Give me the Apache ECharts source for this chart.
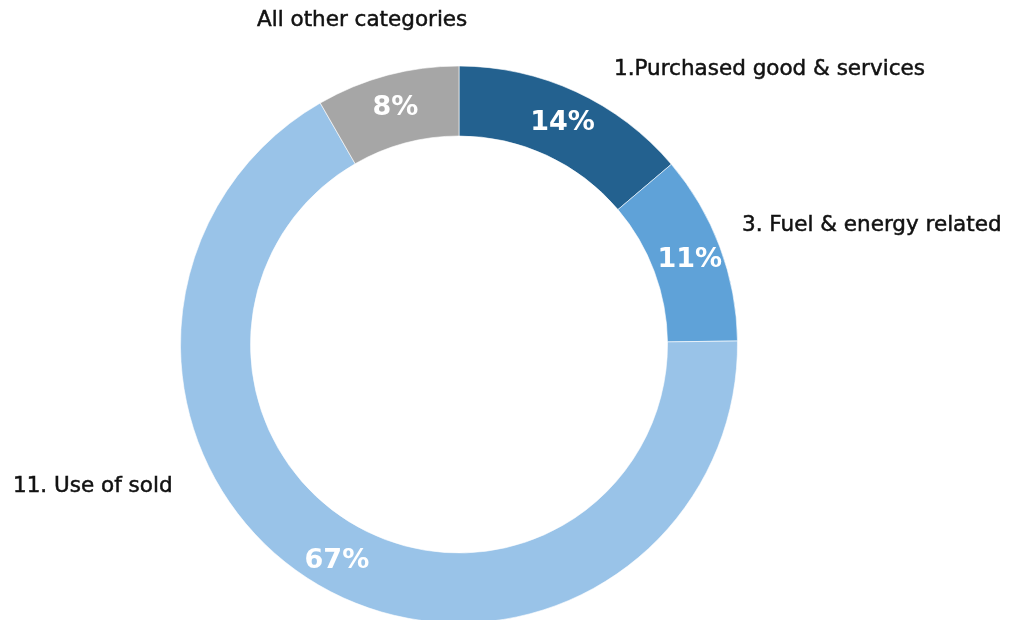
<!DOCTYPE html>
<html>
<head>
<meta charset="utf-8">
<style>
  html, body { margin: 0; padding: 0; background: #ffffff; }
  #chart { width: 1012px; height: 620px; }
</style>
<script src="https://cdn.jsdelivr.net/npm/echarts@6/dist/echarts.min.js"></script>
</head>
<body>
<div id="chart"></div>
<script>
const categories = ["1.Purchased good & services", "3. Fuel & energy related", "11. Use of sold", "All other categories"];
const shares = [13.8, 11.0, 66.9, 8.3];
const colors = ["#23618F", "#5FA2D8", "#99C3E8", "#A6A6A6"];
// outside label anchor positions (left, middle), by slice index
const labelAnchors = [[614, 69], [742, 225], [13, 486], [257, 20]];

const chart = echarts.init(document.getElementById('chart'), null, { renderer: 'canvas' });
const pieData = categories.map((c, i) => ({ name: c, value: shares[i], itemStyle: { color: colors[i] } }));

chart.setOption({
  animation: false,
  backgroundColor: '#ffffff',
  series: [
    {
      type: 'pie',
      center: [459, 344.5],
      radius: [208.5, 278.5],
      startAngle: 90,
      clockwise: true,
      avoidLabelOverlap: false,
      itemStyle: { borderColor: '#ffffff', borderWidth: 0.6 },
      label: {
        show: true,
        position: 'inside',
        formatter: p => Math.round(p.percent) + '%',
        color: '#ffffff',
        fontFamily: 'DejaVu Sans',
        fontWeight: 'bold',
        fontSize: 27,
        offset: [0, 2]
      },
      labelLine: { show: false },
      data: pieData
    },
    {
      type: 'pie',
      center: [459, 344.5],
      radius: [208.5, 278.5],
      startAngle: 90,
      clockwise: true,
      silent: true,
      avoidLabelOverlap: false,
      itemStyle: { color: 'rgba(0,0,0,0)' },
      label: {
        show: true,
        position: 'outside',
        formatter: p => p.name,
        color: '#111111',
        fontFamily: 'DejaVu Sans',
        fontSize: 21.5,
        textBorderColor: '#111111',
        textBorderWidth: 0.5
      },
      labelLine: { show: false },
      labelLayout: params => {
        const a = labelAnchors[params.dataIndex];
        return { x: a[0], y: a[1], align: 'left', verticalAlign: 'middle', hideOverlap: false };
      },
      data: categories.map((c, i) => ({ name: c, value: shares[i] }))
    }
  ]
});
</script>
</body>
</html>
